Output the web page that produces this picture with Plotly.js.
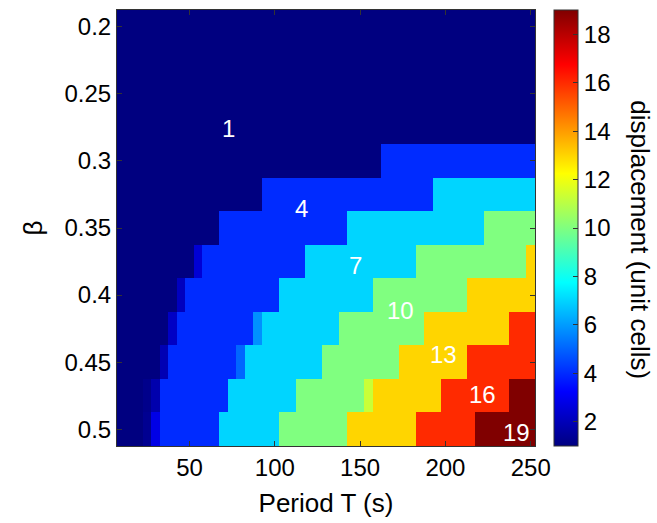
<!DOCTYPE html>
<html>
<head>
<meta charset="utf-8">
<script src="https://cdn.plot.ly/plotly-3.0.1.min.js"></script>
<style>html,body{margin:0;padding:0;background:#fff;}#chart{width:657px;height:523px;}</style>
</head>
<body>
<div id="chart"></div>
<script>
// Period T (s) - column centres
var periods = [10,15,20,25,30,35,40,45,50,55,60,65,70,75,80,85,90,95,100,105,110,115,120,125,130,135,140,145,150,155,160,165,170,175,180,185,190,195,200,205,210,215,220,225,230,235,240,245,250];
// beta - row centres
var betas = [0.2,0.225,0.25,0.275,0.3,0.325,0.35,0.375,0.4,0.425,0.45,0.475,0.5];

// displacement (unit cells), one row per beta
var disp_b0200 = [1,1,1,1,1,1,1,1,1,1,1,1,1,1,1,1,1,1,1,1,1,1,1,1,1,1,1,1,1,1,1,1,1,1,1,1,1,1,1,1,1,1,1,1,1,1,1,1,1];
var disp_b0225 = [1,1,1,1,1,1,1,1,1,1,1,1,1,1,1,1,1,1,1,1,1,1,1,1,1,1,1,1,1,1,1,1,1,1,1,1,1,1,1,1,1,1,1,1,1,1,1,1,1];
var disp_b0250 = [1,1,1,1,1,1,1,1,1,1,1,1,1,1,1,1,1,1,1,1,1,1,1,1,1,1,1,1,1,1,1,1,1,1,1,1,1,1,1,1,1,1,1,1,1,1,1,1,1];
var disp_b0275 = [1,1,1,1,1,1,1,1,1,1,1,1,1,1,1,1,1,1,1,1,1,1,1,1,1,1,1,1,1,1,1,1,1,1,1,1,1,1,1,1,1,1,1,1,1,1,1,1,1];
var disp_b0300 = [1,1,1,1,1,1,1,1,1,1,1,1,1,1,1,1,1,1,1,1,1,1,1,1,1,1,1,1,1,1,1,4,4,4,4,4,4,4,4,4,4,4,4,4,4,4,4,4,4];
var disp_b0325 = [1,1,1,1,1,1,1,1,1,1,1,1,1,1,1,1,1,4,4,4,4,4,4,4,4,4,4,4,4,4,4,4,4,4,4,4,4,7,7,7,7,7,7,7,7,7,7,7,7];
var disp_b0350 = [1,1,1,1,1,1,1,1,1,1,1,1,4,4,4,4,4,4,4,4,4,4,4,4,4,4,4,7,7,7,7,7,7,7,7,7,7,7,7,7,7,7,7,10,10,10,10,10,10];
var disp_b0375 = [1,1,1,1,1,1,1,1,1,2.5,4,4,4,4,4,4,4,4,4,4,4,4,7,7,7,7,7,7,7,7,7,7,7,7,7,10,10,10,10,10,10,10,10,10,10,10,10,10,13];
var disp_b0400 = [1,1,1,1,1,1,1,2.1,4,4,4,4,4,4,4,4,4,4,4,7,7,7,7,7,7,7,7,7,7,7,10,10,10,10,10,10,10,10,10,10,10,13,13,13,13,13,13,13,13];
var disp_b0425 = [1,1,1,1,1,1,2.2,4,4,4,4,4,4,4,4,4,5.8,7,7,7,7,7,7,7,7,7,10,10,10,10,10,10,10,10,10,10,13,13,13,13,13,13,13,13,13,13,16,16,16];
var disp_b0450 = [1,1,1,1,1,1.9,4,4,4,4,4,4,4,4,5.05,7,7,7,7,7,7,7,7,7,10,10,10,10,10,10,10,10,10,13,13,13,13,13,13,13,13,16,16,16,16,16,16,16,16];
var disp_b0475 = [1,1,1,1.2,1.8,4,4,4,4,4,4,4,4,7,7,7,7,7,7,7,7,10,10,10,10,10,10,10,10,11.3,13,13,13,13,13,13,13,13,16,16,16,16,16,16,16,16,19,19,19];
var disp_b0500 = [1,1,1,1.3,2.8,4,4,4,4,4,4,4,7,7,7,7,7,7,7,10,10,10,10,10,10,10,10,13,13,13,13,13,13,13,13,16,16,16,16,16,16,16,19,19,19,19,19,19,19];

// in-plot labels
var labelText = ['1','4','7','10','13','16','19'];
var labelT = [72.7,115.8,147,173.4,198.8,221.6,241.8];
var labelBeta = [0.2756,0.3353,0.3776,0.4117,0.444,0.474,0.5028];

var xTicks = [50,100,150,200,250];
var yTicks = [0.2,0.25,0.3,0.35,0.4,0.45,0.5];
var yTickText = ['0.2','0.25','0.3','0.35','0.4','0.45','0.5'];
var cbTicks = [2,4,6,8,10,12,14,16,18];

var z = [disp_b0200,disp_b0225,disp_b0250,disp_b0275,disp_b0300,disp_b0325,disp_b0350,
         disp_b0375,disp_b0400,disp_b0425,disp_b0450,disp_b0475,disp_b0500];

var jet = [[0,'rgb(0,0,128)'],[0.125,'rgb(0,0,255)'],[0.375,'rgb(0,255,255)'],
           [0.625,'rgb(255,255,0)'],[0.875,'rgb(255,0,0)'],[1,'rgb(128,0,0)']];

var FONT = 'Liberation Sans, Arial, Helvetica, sans-serif';
var AX = '#333333';

var trace = {
  type: 'heatmap',
  x: periods, y: betas, z: z,
  zmin: 1, zmax: 19,
  zsmooth: false,
  colorscale: jet,
  hoverinfo: 'x+y+z',
  colorbar: {
    x: 1.0455, xanchor: 'left', xpad: 0,
    y: 0.5, yanchor: 'middle', len: 1, lenmode: 'fraction', ypad: 0,
    thickness: 24, thicknessmode: 'pixels',
    outlinewidth: 1, outlinecolor: AX,
    tickmode: 'array', tickvals: cbTicks,
    ticks: 'inside', ticklen: 5, tickwidth: 1, tickcolor: AX,
    tickfont: {family: FONT, size: 24, color: '#000'},
    ticklabelstandoff: 4
  }
};

var annotations = labelText.map(function(t, i){
  return {x: labelT[i], y: labelBeta[i], xref: 'x', yref: 'y', text: t, showarrow: false,
          font: {family: FONT, size: 24, color: '#ffffff'}};
});
annotations.push({
  xref: 'paper', yref: 'paper', x: 1.251, y: 0.472, xanchor: 'center', yanchor: 'middle',
  text: 'displacement (unit cells)',
  textangle: 90, showarrow: false, font: {family: FONT, size: 26, color: '#000'}
});

var layout = {
  width: 657, height: 523,
  margin: {l: 117, r: 122, t: 10, b: 77},
  paper_bgcolor: '#ffffff', plot_bgcolor: '#ffffff',
  font: {family: FONT, size: 24, color: '#000'},
  xaxis: {
    range: [7.5, 252.5], tickmode: 'array', tickvals: xTicks,
    ticks: 'inside', ticklen: 5, tickwidth: 1, tickcolor: AX,
    showline: true, linecolor: AX, linewidth: 1, mirror: 'allticks',
    showgrid: false, zeroline: false,
    tickfont: {family: FONT, size: 24, color: '#000'},
    title: {text: 'Period T (s)', font: {family: FONT, size: 26, color: '#000'}, standoff: 14}
  },
  yaxis: {
    range: [0.5125, 0.1875], tickmode: 'array', tickvals: yTicks, ticktext: yTickText,
    ticks: 'inside', ticklen: 5, tickwidth: 1, tickcolor: AX,
    showline: true, linecolor: AX, linewidth: 1, mirror: 'allticks',
    showgrid: false, zeroline: false,
    tickfont: {family: FONT, size: 24, color: '#000'},
    title: {text: 'β', font: {family: FONT, size: 26, color: '#000'}, standoff: 14}
  },
  annotations: annotations
};

Plotly.newPlot('chart', [trace], layout, {displayModeBar: false, staticPlot: true});
</script>
</body>
</html>
